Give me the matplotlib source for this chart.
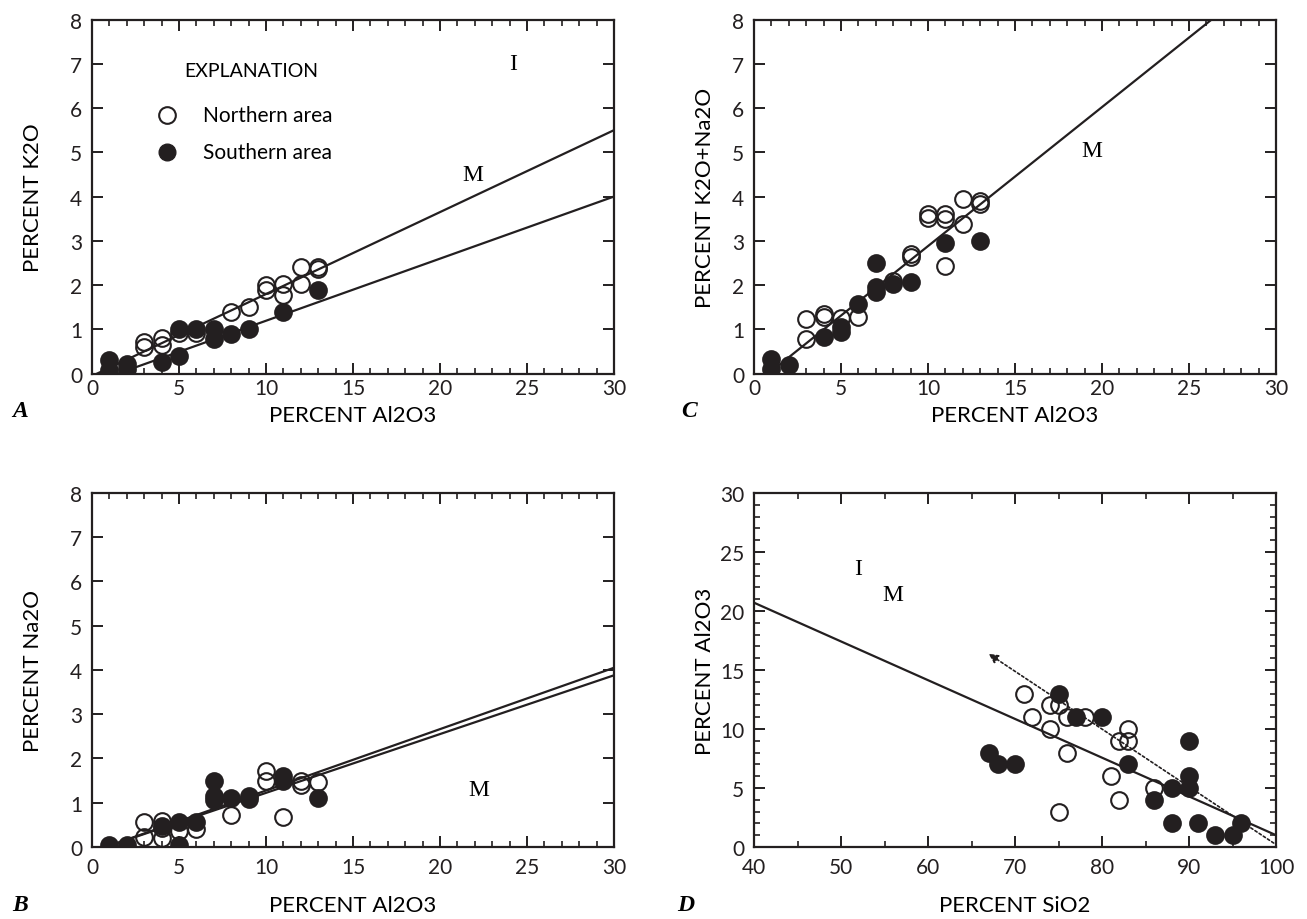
import matplotlib.pyplot as plt
from matplotlib.ticker import MultipleLocator

# Panel A: K2O vs Al2O3
a_north_x = [3, 3, 4, 4, 5, 6, 8, 9, 10, 10, 11, 11, 12, 12, 13, 13]
a_north_y = [0.72, 0.6, 0.8, 0.65, 0.92, 0.92, 1.4, 1.5, 2.0, 1.88, 2.02, 1.78, 2.4, 2.02, 2.4, 2.36]
a_south_x = [1, 1, 2, 2, 4, 5, 5, 6, 7, 7, 8, 9, 11, 13]
a_south_y = [0.3, 0.08, 0.22, 0.1, 0.27, 0.4, 1.0, 1.0, 1.0, 0.78, 0.89, 1.0, 1.38, 1.88]
a_line1 = ([0.3, 30], [0, 5.5])
a_line2 = ([1.5, 30], [0, 4.0])

# Panel B: Na2O vs Al2O3
b_north_x = [3, 3, 4, 4, 4, 5, 6, 8, 10, 10, 11, 12, 12, 13]
b_north_y = [0.57, 0.22, 0.58, 0.42, 0.2, 0.37, 0.4, 0.72, 1.72, 1.5, 0.67, 1.5, 1.4, 1.47]
b_south_x = [1, 2, 4, 5, 5, 6, 7, 7, 7, 8, 9, 9, 11, 11, 13]
b_south_y = [0.05, 0.05, 0.48, 0.56, 0.05, 0.56, 1.5, 1.15, 1.05, 1.1, 1.16, 1.08, 1.61, 1.49, 1.1]
b_line1 = ([0.8, 30], [0, 4.05])
b_line2 = ([0.8, 30], [0, 3.88])

# Panel C: K2O+Na2O vs Al2O3
c_north_x = [3, 3, 4, 4, 5, 6, 8, 9, 9, 10, 10, 11, 11, 11, 12, 12, 13, 13]
c_north_y = [1.23, 0.79, 1.34, 1.27, 1.25, 1.27, 2.1, 2.7, 2.64, 3.6, 3.52, 3.6, 3.49, 2.44, 3.95, 3.38, 3.9, 3.83]
c_south_x = [1, 1, 2, 4, 5, 5, 6, 7, 7, 7, 8, 9, 11, 13]
c_south_y = [0.32, 0.1, 0.2, 0.82, 1.05, 0.93, 1.57, 2.5, 1.95, 1.84, 2.02, 2.06, 2.95, 3.0]
c_line = ([0.83, 26.3], [0, 8])

# Panel D: Al2O3 vs SiO2
d_north_x = [71, 72, 74, 74, 75, 75, 76, 76, 78, 81, 82, 82, 83, 83, 86]
d_north_y = [13, 11, 12, 10, 12, 3, 11, 8, 11, 6, 9, 4, 10, 9, 5]
d_south_x = [67, 68, 70, 75, 77, 80, 83, 86, 88, 88, 90, 90, 90, 91, 93, 95, 96]
d_south_y = [8, 7, 7, 13, 11, 11, 7, 4, 5, 2, 9, 6, 5, 2, 1, 1, 2]
d_line = ([40, 100], [20.7, 1.0])
d_arrow = ([100, 0.2], [66.7, 16.5])

ink = "#231f20"
sans = ["Lato", "DejaVu Sans"]
serif = ["Liberation Serif", "DejaVu Serif"]
plt.rcParams["font.family"] = sans
plt.rcParams["font.size"] = 15

fig = plt.figure(figsize=(13.07, 9.2), dpi=100)
axA = fig.add_axes([0.0704, 0.5929, 0.3994, 0.3848])
axC = fig.add_axes([0.5769, 0.5929, 0.3994, 0.3848])
axB = fig.add_axes([0.0704, 0.0783, 0.3994, 0.3848])
axD = fig.add_axes([0.5769, 0.0783, 0.3994, 0.3848])


def style(ax, xmaj, xmin, ymaj, ymin, xpad):
    for s in ax.spines.values():
        s.set_linewidth(1.6)
        s.set_color(ink)
    ax.xaxis.set_major_locator(MultipleLocator(xmaj))
    ax.xaxis.set_minor_locator(MultipleLocator(xmin))
    ax.yaxis.set_major_locator(MultipleLocator(ymaj))
    if ymin:
        ax.yaxis.set_minor_locator(MultipleLocator(ymin))
    ax.tick_params(which="both", direction="in", top=True, right=True,
                   color=ink, labelcolor=ink)
    ax.tick_params(which="major", length=8, width=1.4, labelsize=15, pad=7)
    ax.tick_params(axis="x", which="major", pad=xpad)
    ax.tick_params(which="minor", length=4, width=1.2)


def points(ax, nx, ny, sx, sy):
    ax.plot(sx, sy, "o", ms=12, mfc=ink, mec=ink, mew=1.5, ls="none", zorder=3)
    ax.plot(nx, ny, "o", ms=12, mfc="none", mec=ink, mew=1.5, ls="none", zorder=4)


def labels(ax, xl, yl, xy, yx):
    ax.set_xlabel(xl, fontsize=16)
    ax.set_ylabel(yl, fontsize=16)
    ax.xaxis.set_label_coords(0.5, xy)
    ax.yaxis.set_label_coords(yx, 0.5)


# A
points(axA, a_north_x, a_north_y, a_south_x, a_south_y)
axA.plot(*a_line1, color=ink, lw=1.6)
axA.plot(*a_line2, color=ink, lw=1.6)
axA.set_xlim(0, 30)
axA.set_ylim(0, 8)
style(axA, 5, 1, 1, None, 3)
labels(axA, "PERCENT Al2O3", "PERCENT K2O", -0.088, -0.094)
axA.text(5.3, 6.85, "EXPLANATION", va="center", fontsize=14)
axA.plot([4.3], [5.85], "o", ms=12, mfc="none", mec=ink, mew=1.5)
axA.plot([4.3], [5.0], "o", ms=12, mfc=ink, mec=ink)
axA.text(6.4, 5.85, "Northern area", va="center", fontsize=15)
axA.text(6.4, 5.0, "Southern area", va="center", fontsize=15)
axA.text(24.2, 7.0, "I", family=serif, fontsize=17, ha="center", va="center")
axA.text(21.9, 4.5, "M", family=serif, fontsize=17, ha="center", va="center")

# C
points(axC, c_north_x, c_north_y, c_south_x, c_south_y)
axC.plot(*c_line, color=ink, lw=1.6)
axC.set_xlim(0, 30)
axC.set_ylim(0, 8)
style(axC, 5, 1, 1, None, 3)
labels(axC, "PERCENT Al2O3", "PERCENT K2O+Na2O", -0.088, -0.075)
axC.text(19.4, 5.05, "M", family=serif, fontsize=17, ha="center", va="center")

# B
points(axB, b_north_x, b_north_y, b_south_x, b_south_y)
axB.plot(*b_line1, color=ink, lw=1.6)
axB.plot(*b_line2, color=ink, lw=1.6)
axB.set_xlim(0, 30)
axB.set_ylim(0, 8)
style(axB, 5, 1, 1, None, 7)
labels(axB, "PERCENT Al2O3", "PERCENT Na2O", -0.135, -0.094)
axB.text(22.2, 1.3, "M", family=serif, fontsize=17, ha="center", va="center")

# D
points(axD, d_north_x, d_north_y, d_south_x, d_south_y)
axD.plot(*d_line, color=ink, lw=1.6)
axD.annotate("", xy=d_arrow[1], xytext=d_arrow[0],
             arrowprops=dict(arrowstyle="-|>", ls=(0, (1.5, 1.5)), lw=1.2,
                             color=ink, mutation_scale=14))
axD.set_xlim(40, 100)
axD.set_ylim(0, 30)
style(axD, 10, 5, 5, 1, 7)
labels(axD, "PERCENT SiO2", "PERCENT Al2O3", -0.135, -0.075)
axD.text(52.0, 23.6, "I", family=serif, fontsize=17, ha="center", va="center")
axD.text(56.0, 21.4, "M", family=serif, fontsize=17, ha="center", va="center")

# panel letters
for lbl, x, y in [("A", 0.009, 0.553), ("C", 0.521, 0.553),
                  ("B", 0.009, 0.016), ("D", 0.518, 0.016)]:
    fig.text(x, y, lbl, family=serif, fontsize=17, fontweight="bold",
             fontstyle="italic", va="center")

fig.savefig("out.png", dpi=100)
